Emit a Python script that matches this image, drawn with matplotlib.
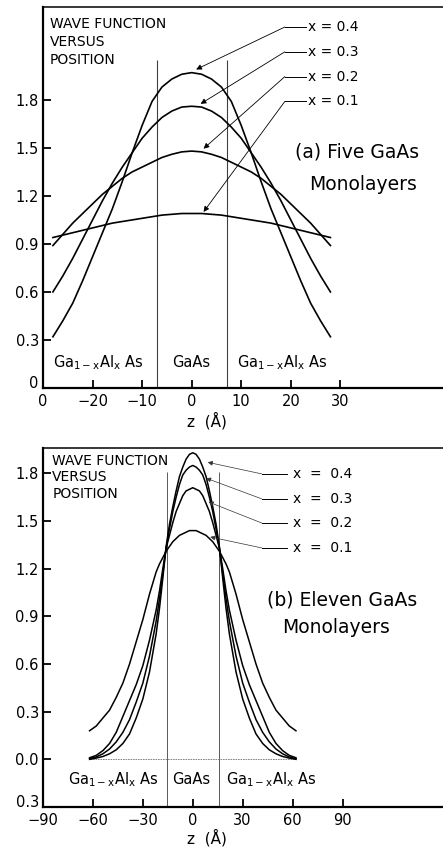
import matplotlib.pyplot as plt
from matplotlib.transforms import ScaledTranslation

# ---- panel (a): five GaAs monolayers ----
z_a = [-28, -26, -24, -22, -20, -18, -16, -14, -12, -10, -8, -6, -4, -2, 0,
       2, 4, 6, 8, 10, 12, 14, 16, 18, 20, 22, 24, 26, 28]
a_x04 = [0.32, 0.42, 0.53, 0.67, 0.82, 0.97, 1.12, 1.29, 1.47, 1.64, 1.79, 1.88, 1.93, 1.96, 1.97,
         1.96, 1.93, 1.88, 1.79, 1.64, 1.47, 1.29, 1.12, 0.97, 0.82, 0.67, 0.53, 0.42, 0.32]
a_x03 = [0.60, 0.70, 0.81, 0.93, 1.05, 1.17, 1.28, 1.38, 1.47, 1.56, 1.63, 1.69, 1.73, 1.755, 1.76,
         1.755, 1.73, 1.69, 1.63, 1.56, 1.47, 1.38, 1.28, 1.17, 1.05, 0.93, 0.81, 0.70, 0.60]
a_x02 = [0.89, 0.96, 1.03, 1.09, 1.15, 1.21, 1.26, 1.31, 1.35, 1.38, 1.41, 1.44, 1.46, 1.475, 1.48,
         1.475, 1.46, 1.44, 1.41, 1.38, 1.35, 1.31, 1.26, 1.21, 1.15, 1.09, 1.03, 0.96, 0.89]
a_x01 = [0.94, 0.955, 0.97, 0.985, 1.00, 1.015, 1.03, 1.04, 1.05, 1.06, 1.07, 1.08, 1.085, 1.09, 1.09,
         1.09, 1.085, 1.08, 1.07, 1.06, 1.05, 1.04, 1.03, 1.015, 1.00, 0.985, 0.97, 0.955, 0.94]

# ---- panel (b): eleven GaAs monolayers ----
z_b = [-62, -58, -54, -50, -46, -42, -38, -34, -30, -26, -22, -20, -18, -16, -14, -12, -10, -8, -6, -4, -2, 0,
       2, 4, 6, 8, 10, 12, 14, 16, 18, 20, 22, 26, 30, 34, 38, 42, 46, 50, 54, 58, 62]
b_x04 = [0.0, 0.008, 0.018, 0.035, 0.06, 0.10, 0.16, 0.26, 0.38, 0.55, 0.79, 0.95, 1.14, 1.34, 1.48, 1.59, 1.69, 1.78, 1.84, 1.89, 1.92, 1.93,
         1.92, 1.89, 1.84, 1.78, 1.69, 1.59, 1.48, 1.34, 1.14, 0.95, 0.79, 0.55, 0.38, 0.26, 0.16, 0.10, 0.06, 0.035, 0.018, 0.008, 0.0]
b_x03 = [0.005, 0.015, 0.035, 0.065, 0.11, 0.17, 0.25, 0.36, 0.48, 0.65, 0.87, 1.01, 1.17, 1.33, 1.45, 1.56, 1.65, 1.73, 1.79, 1.82, 1.84, 1.85,
         1.84, 1.82, 1.79, 1.73, 1.65, 1.56, 1.45, 1.33, 1.17, 1.01, 0.87, 0.65, 0.48, 0.36, 0.25, 0.17, 0.11, 0.065, 0.035, 0.015, 0.005]
b_x02 = [0.01, 0.025, 0.055, 0.10, 0.17, 0.27, 0.37, 0.47, 0.59, 0.75, 0.94, 1.06, 1.20, 1.33, 1.41, 1.49, 1.56, 1.61, 1.66, 1.69, 1.70, 1.71,
         1.70, 1.69, 1.66, 1.61, 1.56, 1.49, 1.41, 1.33, 1.20, 1.06, 0.94, 0.75, 0.59, 0.47, 0.37, 0.27, 0.17, 0.10, 0.055, 0.025, 0.01]
b_x01 = [0.18, 0.21, 0.26, 0.31, 0.39, 0.48, 0.60, 0.74, 0.88, 1.04, 1.18, 1.23, 1.27, 1.31, 1.34, 1.37, 1.39, 1.41, 1.42, 1.43, 1.44, 1.44,
         1.44, 1.43, 1.42, 1.41, 1.39, 1.37, 1.34, 1.31, 1.27, 1.23, 1.18, 1.04, 0.88, 0.74, 0.60, 0.48, 0.39, 0.31, 0.26, 0.21, 0.18]

labels = ["x = 0.4", "x = 0.3", "x = 0.2", "x = 0.1"]
xticks_a = [-30, -20, -10, 0, 10, 20, 30]
xticklabels_a = ["0", "\u221220", "\u221210", "0", "10", "20", "30"]
yticks_a = [0, 0.3, 0.6, 0.9, 1.2, 1.5, 1.8]
yticklabels_a = ["0", "0.3", "0.6", "0.9", "1.2", "1.5", "1.8"]
xticks_b = [-90, -60, -30, 0, 30, 60, 90]
xticklabels_b = ["\u221290", "\u221260", "\u221230", "0", "30", "60", "90"]
yticks_b = [-0.3, 0, 0.3, 0.6, 0.9, 1.2, 1.5, 1.8]
yticklabels_b = ["0.3", "0.0", "0.3", "0.6", "0.9", "1.2", "1.5", "1.8"]

alloy = r"Ga$_{\mathregular{1-x}}$Al$_{\mathregular{x}}$ As"

W, H = 443, 852
fig = plt.figure(figsize=(W / 100, H / 100), dpi=100)
ax1 = fig.add_axes([43 / W, 1 - 388 / H, 1.02 - 43 / W, 381 / H])
ax2 = fig.add_axes([43 / W, 1 - 807 / H, 1.02 - 43 / W, 359 / H])


def style_axes(ax, xt, xtl, yt, ytl):
    ax.spines["right"].set_visible(False)
    ax.spines["left"].set_linewidth(1.6)
    ax.spines["bottom"].set_linewidth(1.6)
    ax.spines["top"].set_linewidth(1.1)
    ax.set_xticks(xt)
    ax.set_xticklabels(xtl)
    ax.set_yticks(yt)
    ax.set_yticklabels(ytl)
    ax.tick_params(direction="in", length=6, width=1.3, labelsize=10.5)
    ax.tick_params(axis="x", pad=4)
    ax.tick_params(axis="y", pad=3)
    # corner y label sits a little above its tick, as in the scan
    corner = ax.get_yticklabels()[0]
    corner.set_transform(corner.get_transform()
                         + ScaledTranslation(0, 4 / 72, fig.dpi_scale_trans))


# panel (a)
ax1.set_xlim(-30, 52.5)
ax1.set_ylim(0, 2.38)
style_axes(ax1, xticks_a, xticklabels_a, yticks_a, yticklabels_a)
ax1.vlines([-7.07, 7.07], 0, 2.05, colors="0.25", lw=0.8)
for ys in (a_x04, a_x03, a_x02, a_x01):
    ax1.plot(z_a, ys, color="black", lw=1.2)

leader_v_a = [2.255, 2.10, 1.945, 1.79]
tips_a = [(0.9, 1.99), (1.8, 1.775), (2.4, 1.495), (2.4, 1.10)]
for lab, v, tip in zip(labels, leader_v_a, tips_a):
    ax1.plot([18.8, 23.0], [v, v], color="black", lw=0.7)
    ax1.annotate("", xy=tip, xytext=(18.8, v),
                 arrowprops=dict(arrowstyle="-|>", lw=0.6, color="black",
                                 mutation_scale=8, shrinkA=0, shrinkB=0))
    ax1.text(23.4, v, lab, fontsize=10, va="center", ha="left")

ax1.text(-28.6, 2.32, "WAVE FUNCTION\nVERSUS\nPOSITION", fontsize=10,
         va="top", ha="left", linespacing=1.37)
ax1.text(20.9, 1.475, "(a) Five GaAs", fontsize=13.5, va="center", ha="left")
ax1.text(23.6, 1.27, "Monolayers", fontsize=13.5, va="center", ha="left")
ax1.text(-18.9, 0.16, alloy, fontsize=10.5, ha="center", va="center")
ax1.text(0, 0.16, "GaAs", fontsize=10.5, ha="center", va="center")
ax1.text(18.2, 0.16, alloy, fontsize=10.5, ha="center", va="center")
ax1.set_xlabel("z  (\u00c5)", fontsize=11)
ax1.xaxis.set_label_coords(0.40, -0.062)

# panel (b)
ax2.set_xlim(-90, 155.7)
ax2.set_ylim(-0.3, 1.96)
style_axes(ax2, xticks_b, xticklabels_b, yticks_b, yticklabels_b)
ax2.vlines([-15.6, 15.6], -0.3, 1.81, colors="0.35", lw=0.7)
ax2.hlines(0, -62, 62, colors="0.45", lw=0.6, linestyles=(0, (2, 1)))
for ys in (b_x04, b_x03, b_x02, b_x01):
    ax2.plot(z_b, ys, color="black", lw=1.1)

leader_v_b = [1.797, 1.64, 1.488, 1.331]
tips_b = [(9.0, 1.87), (8.0, 1.77), (9.5, 1.62), (10.5, 1.40)]
for lab, v, tip in zip(labels, leader_v_b, tips_b):
    ax2.plot([41.4, 56.8], [v, v], color="black", lw=0.7)
    ax2.annotate("", xy=tip, xytext=(41.4, v),
                 arrowprops=dict(arrowstyle="-|>", lw=0.5, color="0.2",
                                 mutation_scale=7, shrinkA=0, shrinkB=0))
    ax2.text(60.5, v, lab.replace(" = ", "  =  "), fontsize=10, va="center", ha="left")

ax2.text(-84.5, 1.925, "WAVE FUNCTION\nVERSUS\nPOSITION", fontsize=10,
         va="top", ha="left", linespacing=1.26)
ax2.text(44.5, 1.0, "(b) Eleven GaAs", fontsize=13.5, va="center", ha="left")
ax2.text(53.7, 0.827, "Monolayers", fontsize=13.5, va="center", ha="left")
ax2.text(-47.6, -0.13, alloy, fontsize=10.5, ha="center", va="center")
ax2.text(-1, -0.13, "GaAs", fontsize=10.5, ha="center", va="center")
ax2.text(47, -0.13, alloy, fontsize=10.5, ha="center", va="center")
ax2.set_xlabel("z  (\u00c5)", fontsize=11)
ax2.xaxis.set_label_coords(0.40, -0.062)

fig.savefig("out.png", dpi=100)
